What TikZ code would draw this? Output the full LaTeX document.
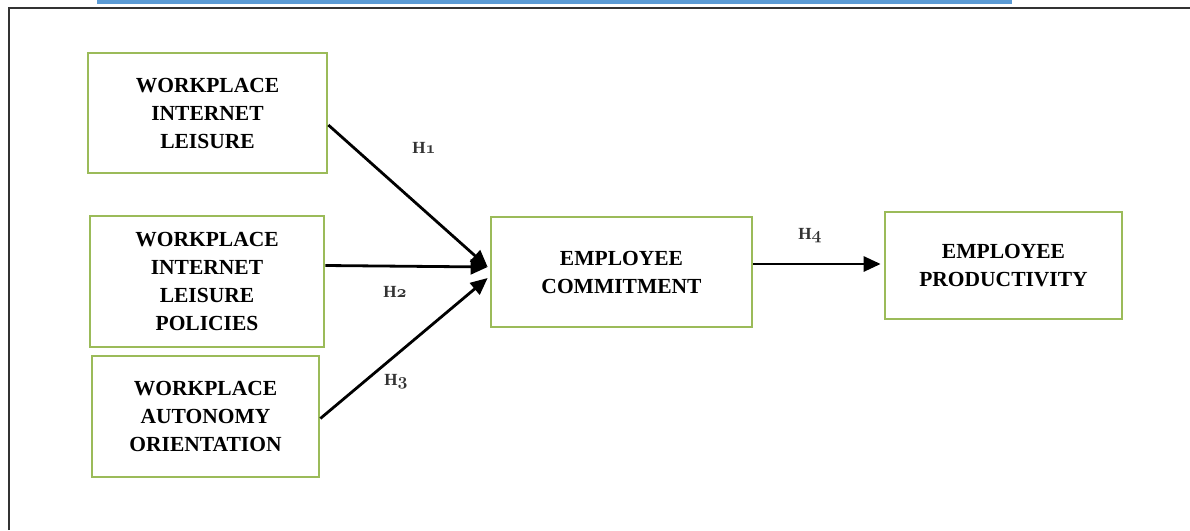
\documentclass[tikz,border=0pt]{standalone}
\usepackage{fontspec}
\newfontfamily\tnr{Liberation Serif}
\usetikzlibrary{arrows.meta}
\newcommand\osdig[1]{{\fontencoding{OML}\fontfamily{cmm}\fontseries{b}\fontshape{it}\selectfont #1}}
\definecolor{boxgreen}{HTML}{9BBB59}
\definecolor{topblue}{HTML}{5B9BD5}
\definecolor{framegray}{HTML}{333333}
\tikzset{
  varbox/.style={draw=boxgreen, line width=2.7pt, inner sep=0pt, align=center,
    font=\tnr\bfseries\fontsize{21.5}{28}\selectfont},
  link/.style={line width=2.8pt, -{Triangle[length=17pt,width=15pt]}},
  hlabel/.style={font=\tnr\bfseries\fontsize{17}{19}\selectfont, text=black!80}
}
\begin{document}
\begin{tikzpicture}[x=1pt,y=-1pt]
\useasboundingbox (0,0) rectangle (1190,530);
\fill[topblue] (97,0) rectangle (1012,3.5);
\draw[framegray, line width=2pt] (9,530) -- (9,7.5) -- (1190,7.5);
\node[varbox, minimum width=239pt, minimum height=120pt] (b1) at (207.5,113) {WORKPLACE\\INTERNET\\LEISURE};
\node[varbox, minimum width=234pt, minimum height=131pt] (b2) at (207,281.5) {WORKPLACE\\INTERNET\\LEISURE\\POLICIES};
\node[varbox, minimum width=227pt, minimum height=121pt] (b3) at (205.5,416.5) {WORKPLACE\\AUTONOMY\\ORIENTATION};
\node[varbox, minimum width=261pt, minimum height=110pt] (ec) at (621.5,272) {EMPLOYEE\\COMMITMENT};
\node[varbox, minimum width=237pt, minimum height=107pt] (ep) at (1003.5,265.5) {EMPLOYEE\\PRODUCTIVITY};
\draw[link] ([yshift=-12pt]b1.east) -- ([yshift=5pt,xshift=-2pt]ec.west);
\draw[link] ([yshift=16pt]b2.east) -- ([yshift=5pt,xshift=-2pt]ec.west);
\draw[link] ([yshift=-2pt]b3.east) -- ([yshift=-6pt,xshift=-2pt]ec.west);
\draw[link] ([yshift=8pt]ec.east) -- ([yshift=1.5pt,xshift=-3pt]ep.west);
\node[hlabel] (h1) at (424,148) {H\osdig{1}};
\node[hlabel] (h2) at (395,292) {H\osdig{2}};
\node[hlabel] (h3) at (396,382) {H\osdig{3}};
\node[hlabel] (h4) at (810,236) {H\osdig{4}};
\end{tikzpicture}
\end{document}
